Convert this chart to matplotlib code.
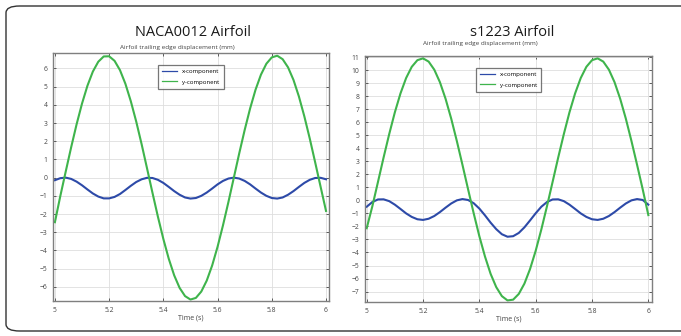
"""
Airfoil trailing edge displacement, NACA0012 vs s1223 (two panels).
"""
import numpy as np
import matplotlib
matplotlib.use("Agg")
import matplotlib.pyplot as plt
from matplotlib.patches import FancyBboxPatch
from matplotlib.ticker import FormatStrFormatter

# ── Data (t = 5.00 ... 6.00 step 0.02 s) ─────────────────────────────────────
time_s = np.round(np.arange(5.0, 6.0001, 0.02), 2)

naca_x = [-0.14, -0.03, -0.00, -0.07, -0.22, -0.42, -0.65, -0.87, -1.04, -1.14,
          -1.14, -1.06, -0.90, -0.68, -0.45, -0.24, -0.09, -0.01, -0.02, -0.12,
          -0.29, -0.51, -0.74, -0.94, -1.09, -1.15, -1.12, -1.00, -0.82, -0.60,
          -0.37, -0.18, -0.05, 0.00, -0.05, -0.18, -0.37, -0.60, -0.82, -1.00,
          -1.12, -1.15, -1.09, -0.94, -0.74, -0.51, -0.29, -0.12, -0.02, -0.01,
          -0.09]
naca_y = [-2.45, -1.01, 0.34, 1.67, 2.93, 4.07, 5.05, 5.83, 6.37, 6.66,
          6.67, 6.42, 5.91, 5.16, 4.20, 3.08, 1.83, 0.50, -0.84, -2.15,
          -3.37, -4.46, -5.37, -6.06, -6.51, -6.70, -6.61, -6.26, -5.66, -4.83,
          -3.80, -2.62, -1.34, 0.00, 1.34, 2.62, 3.80, 4.83, 5.66, 6.26,
          6.61, 6.70, 6.51, 6.06, 5.37, 4.46, 3.37, 2.15, 0.84, -0.50,
          -1.83]

s1223_x = [-0.49, -0.13, 0.07, 0.08, -0.06, -0.33, -0.66, -1.00, -1.27, -1.45,
           -1.50, -1.41, -1.20, -0.90, -0.56, -0.24, 0.00, 0.10, 0.03, -0.22,
           -0.63, -1.15, -1.71, -2.21, -2.60, -2.79, -2.75, -2.50, -2.07, -1.54,
           -0.99, -0.49, -0.13, 0.07, 0.08, -0.06, -0.33, -0.66, -1.00, -1.27,
           -1.45, -1.50, -1.41, -1.20, -0.90, -0.56, -0.24, 0.00, 0.10, 0.03,
           -0.33]
s1223_y = [-2.14, -0.46, 1.41, 3.29, 5.09, 6.76, 8.21, 9.39, 10.25, 10.76,
           10.90, 10.65, 10.03, 9.07, 7.80, 6.28, 4.56, 2.73, 0.85, -1.00,
           -2.75, -4.31, -5.64, -6.66, -7.35, -7.68, -7.62, -7.18, -6.39, -5.27,
           -3.87, -2.24, -0.46, 1.41, 3.29, 5.09, 6.76, 8.21, 9.39, 10.25,
           10.76, 10.90, 10.65, 10.03, 9.07, 7.80, 6.28, 4.56, 2.73, 0.85,
           -1.13]

x_ticks = [5, 5.2, 5.4, 5.6, 5.8, 6]
naca_yticks = list(range(-6, 7))
s1223_yticks = list(range(-7, 12))

BLUE = "#2d4aa8"
GREEN = "#3fb44c"
W, H = 681, 336

plt.rcParams["font.family"] = ["Open Sans", "DejaVu Sans"]


def px_rect(x0, y0, x1, y1):
    """Pixel box (top-left origin) -> figure fraction rect."""
    return [x0 / W, 1 - y1 / H, (x1 - x0) / W, (y1 - y0) / H]


def style_axes(ax, xlim, ylim, yticks):
    ax.set_xlim(*xlim)
    ax.set_ylim(*ylim)
    ax.set_xticks(x_ticks)
    ax.set_yticks(yticks)
    ax.xaxis.set_major_formatter(FormatStrFormatter("%g"))
    ax.grid(True, color="#dedede", lw=0.6)
    ax.set_axisbelow(True)
    ax.tick_params(direction="in", length=2.5, width=0.6, top=True, right=True,
                   labelsize=4.9, colors="#444444", pad=4)
    for sp in ax.spines.values():
        sp.set_color("#7f7f7f")
        sp.set_linewidth(1.0)
    ax.set_xlabel("Time (s)", fontsize=5, color="#444444", labelpad=1)


def draw_panel(ax, xs, ys):
    ax.plot(time_s, xs, color=BLUE, lw=1.5, label="x-component")
    ax.plot(time_s, ys, color=GREEN, lw=1.5, label="y-component")
    leg = ax.legend(loc="upper center", fontsize=4.3, frameon=True, fancybox=False,
                    borderpad=0.7, handlelength=2.5, labelspacing=0.9,
                    bbox_to_anchor=(0.5, 0.965))
    leg.get_frame().set_edgecolor("#555555")
    leg.get_frame().set_linewidth(0.9)
    for line in leg.get_lines():
        line.set_linewidth(0.9)


fig = plt.figure(figsize=(W / 100, H / 100), dpi=100)

# rounded outer frame (its right edge runs off the canvas)
frame = FancyBboxPatch((6 / W, 1 - 331 / H), 700 / W, 325 / H,
                       boxstyle="round,pad=0,rounding_size=0.02",
                       transform=fig.transFigure, fill=False,
                       edgecolor="#333333", lw=1.0)
fig.patches.append(frame)

ax1 = fig.add_axes(px_rect(53, 53, 329, 301))
draw_panel(ax1, naca_x, naca_y)
style_axes(ax1, (4.993, 6.011), (-6.78, 6.85), naca_yticks)

ax2 = fig.add_axes(px_rect(365, 56, 652, 302))
draw_panel(ax2, s1223_x, s1223_y)
style_axes(ax2, (4.994, 6.013), (-7.8, 11.08), s1223_yticks)

fig.text(193 / W, 1 - 33 / H, "NACA0012 Airfoil", ha="center", va="center",
         fontsize=10.5, color="#1a1a1a")
fig.text(177 / W, 1 - 48 / H, "Airfoil trailing edge displacement (mm)",
         ha="center", va="center", fontsize=4.6, color="#444444")
fig.text(512 / W, 1 - 33 / H, "s1223 Airfoil", ha="center", va="center",
         fontsize=10.5, color="#1a1a1a")
fig.text(480 / W, 1 - 44 / H, "Airfoil trailing edge displacement (mm)",
         ha="center", va="center", fontsize=4.6, color="#444444")

plt.savefig("out.png", dpi=100)
plt.close()
